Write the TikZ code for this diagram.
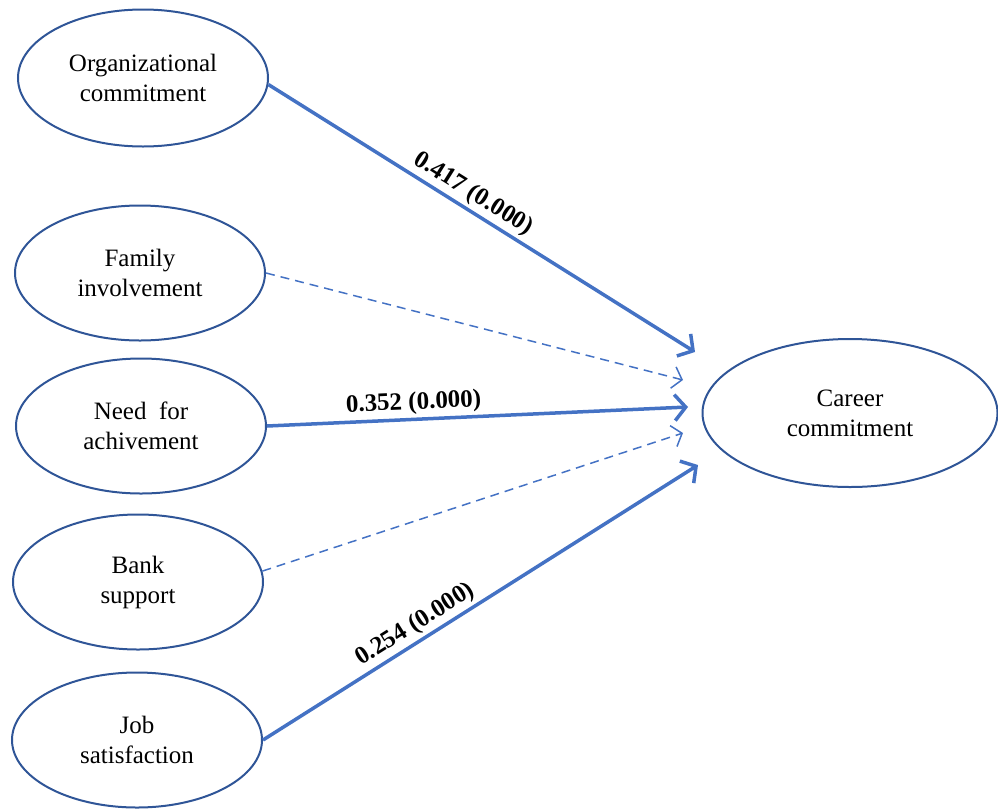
\documentclass[tikz,border=0pt]{standalone}
\usepackage{fontspec}
\setmainfont{Liberation Serif}
\usetikzlibrary{shapes.geometric,arrows.meta}
\definecolor{edgeblue}{HTML}{4472C4}
\definecolor{rimblue}{HTML}{2F5597}
\begin{document}
\begin{tikzpicture}[x=1pt,y=1pt,
  factor/.style={ellipse,draw=rimblue,line width=2pt,inner sep=0pt,
    minimum width=250pt,minimum height=135pt,align=center,
    font=\fontsize{25}{30}\selectfont},
  strong/.style={draw=edgeblue,line width=3.5pt,
    -{Straight Barb[length=11pt,width=26pt,line width=3.5pt]}},
  weak/.style={draw=edgeblue,line width=1.5pt,dash pattern=on 9pt off 6pt,
    -{Straight Barb[length=9pt,width=22pt,line width=1.5pt]}},
  coef/.style={font=\fontsize{25}{28}\selectfont\bfseries,sloped,above,inner sep=3pt}]
\useasboundingbox (0,0) rectangle (998,-809);
\node[factor,minimum height=137pt] (oc) at (143,-78) {Organizational\\commitment};
\node[factor] (fi) at (140,-273) {Family\\involvement};
\node[factor] (na) at (141,-426) {Need~ for\\achivement};
\node[factor] (bs) at (138,-582) {Bank\\support};
\node[factor] (js) at (137,-740) {Job\\satisfaction};
\node[factor,minimum width=295pt,minimum height=148pt] (cc) at (850,-413) {Career\\commitment};
\coordinate (t1) at (695,-352);
\coordinate (t2) at (683,-380);
\coordinate (t3) at (688,-407);
\coordinate (t4) at (683,-433);
\coordinate (t5) at (698,-465);
\draw[strong] (oc.-3) -- node[coef,pos=0.46] {0.417 (0.000)} (t1);
\draw[weak] (fi.east) -- (t2);
\draw[strong] (na.east) -- node[coef,pos=0.35] {0.352 (0.000)} (t3);
\draw[weak] (bs.5) -- (t4);
\draw[strong] (js.east) -- node[coef,pos=0.37] {0.254 (0.000)} (t5);
\end{tikzpicture}
\end{document}
